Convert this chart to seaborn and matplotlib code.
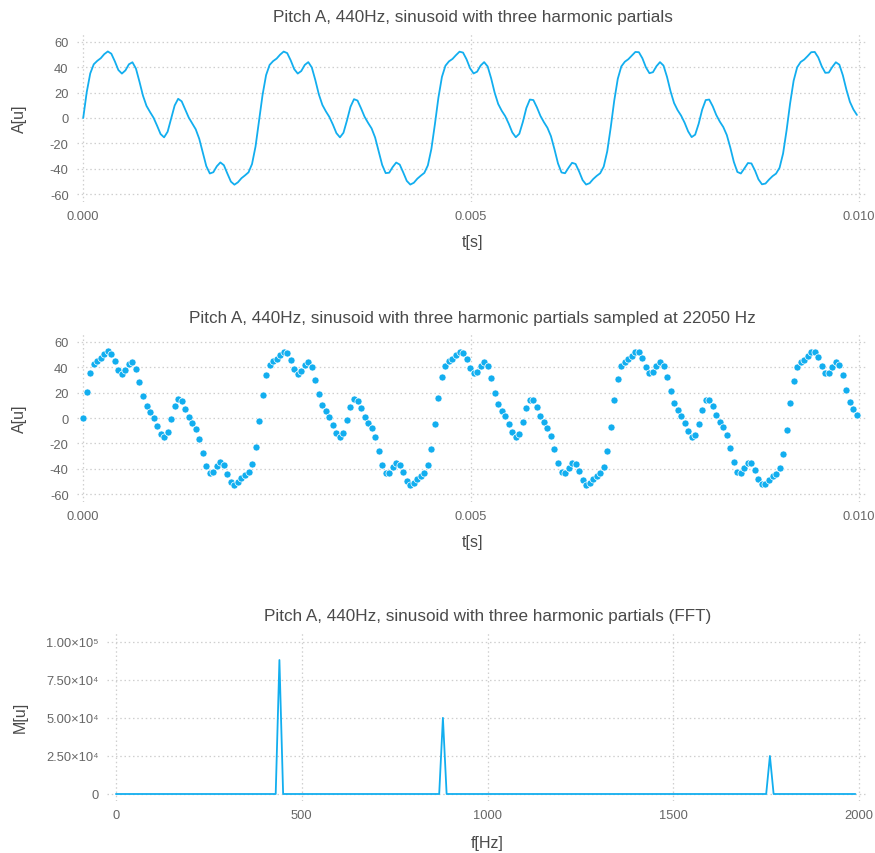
import numpy as np
import pandas as pd
import matplotlib
matplotlib.use("Agg")
import matplotlib.pyplot as plt
import seaborn as sns

# Signal: pitch A (440 Hz) with harmonic partials, sampled at 22050 Hz
SAMPLE_RATE = 22050
amplitude = [
    0.0, 20.3, 35.0, 42.2, 44.9, 47.0, 50.2, 52.3, 50.5, 44.5,
    37.7, 34.9, 37.4, 42.2, 43.8, 38.8, 28.5, 17.5, 9.5, 4.7,
    0.2, -6.0, -12.6, -15.2, -10.8, -0.6, 9.8, 15.1, 13.1, 6.8,
    0.4, -4.3, -8.9, -16.4, -27.2, -37.8, -43.6, -42.6, -37.9, -34.9,
    -37.1, -43.7, -50.0, -52.4, -50.5, -47.3, -45.1, -42.7, -36.2, -22.4,
    -2.4, 18.2, 33.7, 41.7, 44.7, 46.7, 49.8, 52.2, 51.0, 45.3,
    38.4, 34.9, 36.9, 41.7, 43.9, 39.7, 29.8, 18.6, 10.3, 5.2,
    0.8, -5.2, -11.9, -15.2, -11.6, -1.9, 8.8, 14.8, 13.7, 7.6,
    1.0, -3.8, -8.2, -15.3, -25.9, -36.8, -43.3, -43.0, -38.5, -35.0,
    -36.6, -42.8, -49.4, -52.3, -50.9, -47.7, -45.3, -43.1, -37.2, -24.3,
    -4.9, 16.0, 32.3, 41.1, 44.5, 46.4, 49.4, 52.1, 51.4, 46.1,
    39.1, 35.0, 36.4, 41.2, 43.9, 40.5, 31.1, 19.8, 11.0, 5.7,
    1.4, -4.5, -11.3, -15.1, -12.4, -3.2, 7.8, 14.5, 14.1, 8.4,
    1.7, -3.3, -7.7, -14.3, -24.6, -35.7, -42.8, -43.4, -39.1, -35.2,
    -36.1, -42.0, -48.8, -52.3, -51.2, -48.0, -45.5, -43.4, -38.2, -26.2,
    -7.3, 13.8, 30.8, 40.5, 44.2, 46.2, 49.1, 51.9, 51.7, 46.9,
    39.8, 35.2, 36.0, 40.7, 43.9, 41.2, 32.3, 21.0, 11.8, 6.2,
    1.9, -3.7, -10.5, -15.0, -13.1, -4.5, 6.6, 14.1, 14.5, 9.2,
    2.4, -2.8, -7.1, -13.4, -23.3, -34.5, -42.4, -43.6, -39.6, -35.4,
    -35.7, -41.2, -48.2, -52.1, -51.5, -48.4, -45.7, -43.7, -39.1, -27.9,
    -9.6, 11.5, 29.3, 39.8, 44.0, 45.9, 48.7, 51.7, 51.9, 47.6,
    40.6, 35.5, 35.7, 40.1, 43.8, 41.9, 33.5, 22.3, 12.7, 6.7,
    2.4,
]

# Magnitude spectrum (FFT) outline
fft_freq = [0, 430, 440, 450, 870, 880, 890, 1750, 1760, 1770, 1990]
fft_mag = [0, 0, 88000, 0, 0, 50000, 0, 0, 25000, 0, 0]

amp_ticks = [-60, -40, -20, 0, 20, 40, 60]
time_ticks = [0.0, 0.005, 0.010]
time_tick_labels = ["0.000", "0.005", "0.010"]
freq_ticks = [0, 500, 1000, 1500, 2000]
mag_ticks = [0, 25000, 50000, 75000, 100000]
mag_tick_labels = ["0", "2.50×10⁴", "5.00×10⁴", "7.50×10⁴", "1.00×10⁵"]

titles = [
    "Pitch A, 440Hz, sinusoid with three harmonic partials",
    "Pitch A, 440Hz, sinusoid with three harmonic partials sampled at 22050 Hz",
    "Pitch A, 440Hz, sinusoid with three harmonic partials (FFT)",
]

sns.set_theme(style="white")
plt.rcParams["font.family"] = ["Liberation Sans", "DejaVu Sans"]
plt.rcParams["axes.unicode_minus"] = False

LINE = "#12AEEF"
GRID = "#cfcfcf"
TEXT = "#4a4a4a"
TICK = "#666666"

W, H = 875, 854
fig = plt.figure(figsize=(W / 100, H / 100), dpi=100)


def rect(left, top, right, bottom):
    return [left / W, 1 - bottom / H, (right - left) / W, (bottom - top) / H]


ax1 = fig.add_axes(rect(77, 35, 868, 203))
ax2 = fig.add_axes(rect(77, 335, 868, 503))
ax3 = fig.add_axes(rect(107, 633, 868, 802))

# sample times follow from the sample index and the sampling rate
t = np.arange(len(amplitude)) / SAMPLE_RATE
df = pd.DataFrame({"t": t, "A": amplitude})
sns.lineplot(data=df, x="t", y="A", ax=ax1, color=LINE, linewidth=1.3,
             estimator=None, sort=False)
sns.scatterplot(data=df, x="t", y="A", ax=ax2, color=LINE, s=26,
                edgecolor="white", linewidth=0.5, zorder=3)
spec = pd.DataFrame({"f": fft_freq, "M": fft_mag})
sns.lineplot(data=spec, x="f", y="M", ax=ax3, color=LINE, linewidth=1.3,
             estimator=None, sort=False)


def style(ax, title, xlabel, ylabel, xlab_off, ylab_x, height, width):
    for s in ax.spines.values():
        s.set_visible(False)
    ax.grid(True, linestyle=(0, (1.2, 2.2)), color=GRID, linewidth=0.9)
    ax.set_axisbelow(True)
    ax.tick_params(length=0, labelsize=9.3, labelcolor=TICK, pad=6)
    ax.set_title(title, fontsize=12.3, color=TEXT, y=1 + 17 / height, va="center", pad=0)
    ax.set_xlabel(xlabel, fontsize=11.5, color=TEXT)
    ax.set_ylabel(ylabel, fontsize=11.5, color=TEXT)
    ax.xaxis.label.set_va("center")
    ax.yaxis.label.set_va("center")
    ax.xaxis.set_label_coords(0.5, -xlab_off / height)
    ax.yaxis.set_label_coords(ylab_x / width, 0.5)


for ax, title in ((ax1, titles[0]), (ax2, titles[1])):
    ax.set_xlim(-0.00008, 0.01012)
    ax.set_ylim(-66, 66)
    ax.set_xticks(time_ticks)
    ax.set_xticklabels(time_tick_labels)
    ax.set_yticks(amp_ticks)
    style(ax, title, "t[s]", "A[u]", 40, 19.5 - 77, 168, 791)

ax3.set_xlim(-24, 2024)
ax3.set_ylim(-4600, 106400)
ax3.set_xticks(freq_ticks)
ax3.set_yticks(mag_ticks)
ax3.set_yticklabels(mag_tick_labels)
style(ax3, titles[2], "f[Hz]", "M[u]", 42, 20 - 107, 169, 761)

fig.savefig("out.png", dpi=100)
